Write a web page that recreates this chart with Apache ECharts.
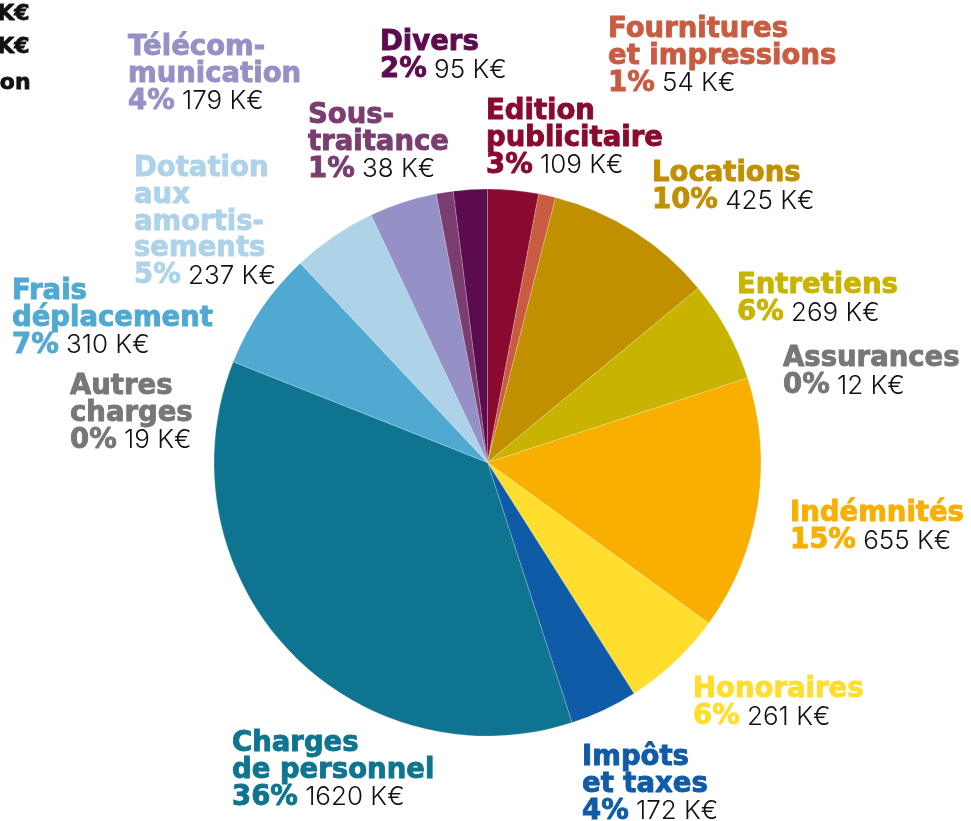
<!DOCTYPE html>
<html>
<head>
<meta charset="utf-8">
<script src="https://cdn.jsdelivr.net/npm/echarts@6/dist/echarts.min.js"></script>
<style>
  html, body { margin: 0; padding: 0; background: #fff; }
  #chart { width: 971px; height: 821px; }
</style>
</head>
<body>
<div id="chart"></div>
<script>
// slices, clockwise from 12 o'clock
const categories = [
  'Edition\npublicitaire', 'Fournitures\net impressions', 'Locations', 'Entretiens', 'Assurances',
  'Indémnités', 'Honoraires', 'Impôts\net taxes', 'Charges\nde personnel', 'Autres\ncharges',
  'Frais\ndéplacement', 'Dotation\naux\namortis-\nsements', 'Télécom-\nmunication', 'Sous-\ntraitance', 'Divers'
]
// amounts in K€ (as printed)
const amounts = [109, 54, 425, 269, 12, 655, 261, 172, 1620, 19, 310, 237, 179, 38, 95]
// rounded shares in % — the slices are drawn from these
const shares = [3, 1, 10, 6, 0, 15, 6, 4, 36, 0, 7, 5, 4, 1, 2]

const colors = [
  '#8a0a2f', '#c95c40', '#c09000', '#c8b400', '#777777',
  '#f8af00', '#ffde2e', '#0f5ba8', '#0e7490', '#777777',
  '#50a9d0', '#aed3e9', '#9591c7', '#7a3d70', '#5c0c4e'
]
// top-left corner of each label block
const labelPos = [
  [486, 99], [608, 17], [652, 161], [737, 273], [783, 346],
  [790, 501], [693, 677], [582, 745], [232, 731], [70, 374],
  [12, 279], [134, 156], [128, 35], [308, 103], [380, 30]
]

const chart = echarts.init(document.getElementById('chart'))

const LH = 26.6
const NAME_FONT = '"DejaVu Sans"'
const VAL_FONT = 'Inter'

chart.setOption({
  backgroundColor: '#ffffff',
  animation: false,
  graphic: [
    { type: 'text', right: 941, top: 3, style: { text: '00 K€', font: 'bold 22px "DejaVu Sans"', fill: '#111', stroke: '#111', lineWidth: 0.8, textAlign: 'right' } },
    { type: 'text', right: 941, top: 36, style: { text: '00 K€', font: 'bold 22px "DejaVu Sans"', fill: '#111', stroke: '#111', lineWidth: 0.8, textAlign: 'right' } },
    { type: 'text', right: 940, top: 72, style: { text: 'Production', font: 'bold 22px "DejaVu Sans"', fill: '#111', stroke: '#111', lineWidth: 0.8, textAlign: 'right' } }
  ],
  series: [{
    type: 'pie',
    center: [487.5, 462.5],
    radius: [0, 273.5],
    startAngle: 90,
    clockwise: true,
    silent: true,
    data: shares.map((v, i) => ({
      value: v,
      name: categories[i],
      itemStyle: { color: colors[i], borderWidth: v ? 0.6 : 0 }
    })),
    itemStyle: { borderColor: 'rgba(255,255,255,0.35)' },
    labelLine: { show: false },
    label: {
      show: true,
      position: 'outside',
      overflow: 'none',
      bleedMargin: 0,
      edgeDistance: 0,
      formatter: p => {
        const i = p.dataIndex
        const lines = categories[i].split('\n').map(s => '{n' + i + '|' + s + '}')
        return lines.join('\n') + '\n{n' + i + '|' + shares[i] + '%}{v| ' + amounts[i] + ' K€}'
      },
      rich: Object.assign({
        v: { fontFamily: VAL_FONT, fontWeight: 300, fontSize: 26, color: '#111', lineHeight: LH }
      }, Object.fromEntries(colors.map((c, i) => ['n' + i, {
        fontFamily: NAME_FONT, fontWeight: 'bold', fontSize: 27.5, color: c, lineHeight: LH,
        textBorderColor: c, textBorderWidth: 0.9
      }])))
    },
    labelLayout: params => ({
      x: labelPos[params.dataIndex][0],
      y: labelPos[params.dataIndex][1],
      align: 'left',
      verticalAlign: 'top',
      width: 400,
      hideOverlap: false,
      moveOverlap: null
    })
  }]
})
</script>
</body>
</html>
